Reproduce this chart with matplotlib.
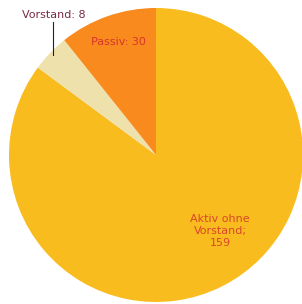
import matplotlib.pyplot as plt

# data
labels = ['Aktiv ohne\nVorstand;\n159', 'Vorstand: 8', 'Passiv: 30']
counts = [159, 8, 30]
# slice angles as drawn in the picture (degrees), not proportional to counts
drawn_deg = [306.5, 14.9, 38.6]
colors = ['#F9BC1F', '#EFE1AC', '#F88A1E']
label_colors = ['#D9472A', '#7A2A4A', '#D8362A']

cx, cy, r = 156, 155, 147

fig = plt.figure(figsize=(3.02, 3.04), dpi=100)
ax = fig.add_axes([(cx - r) / 302, (304 - cy - r) / 304, 2 * r / 302, 2 * r / 304])

wedges, _ = ax.pie(drawn_deg, colors=colors, startangle=90, counterclock=False,
                   radius=1, wedgeprops=dict(linewidth=0))
ax.set_xlim(-1, 1)
ax.set_ylim(-1, 1)
ax.set_aspect('auto')
ax.axis('off')


def px(x, y):
    # pixel position in the picture -> data coords
    return (x - cx) / r, (cy - y) / r


fnt = 'DejaVu Sans'
ax.text(*px(220, 231), labels[0], ha='center', va='center', fontsize=8,
        color=label_colors[0], family=fnt, linespacing=1.3)
ax.text(*px(54, 15), labels[1], ha='center', va='center', fontsize=8,
        color=label_colors[1], family=fnt)
ax.text(*px(118, 42), labels[2], ha='center', va='center', fontsize=8,
        color=label_colors[2], family=fnt)

x0, y0 = px(53, 22)
x1, y1 = px(53, 55)
ax.plot([x0, x1], [y0, y1], color='#222222', linewidth=0.8)

fig.savefig('out.png', dpi=100)
